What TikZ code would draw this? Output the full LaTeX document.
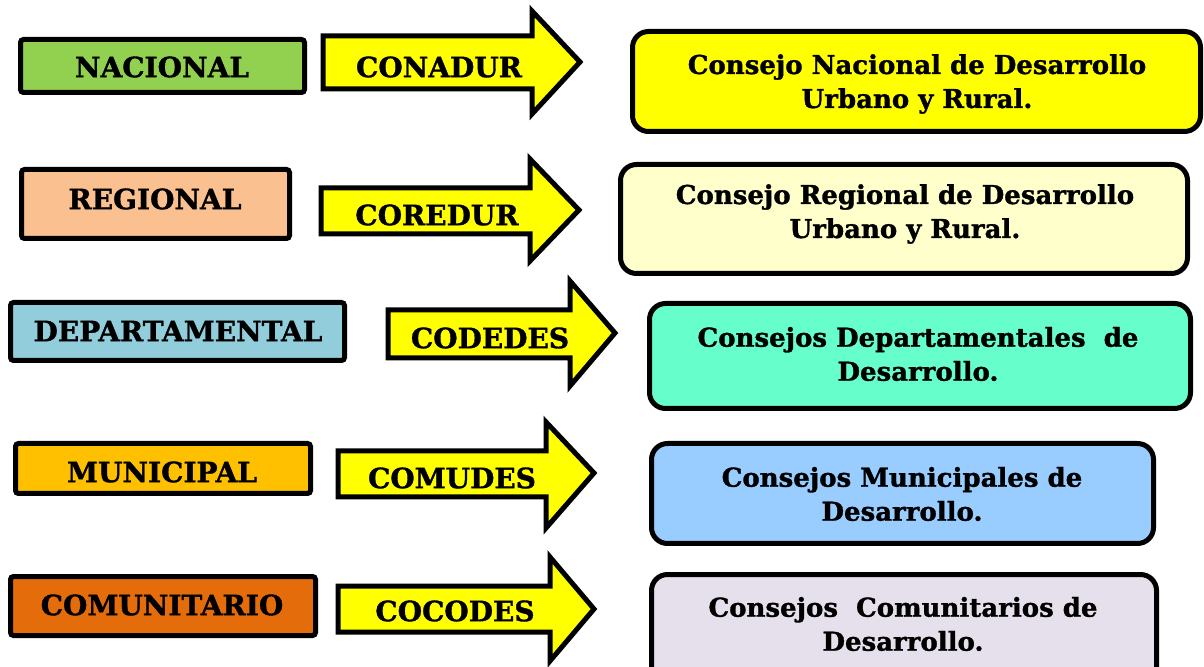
\documentclass[tikz,border=0pt]{standalone}
\usepackage{fontspec}
\setmainfont{DejaVu Serif}[BoldFeatures={FakeBold=1.2}]

\definecolor{verde}{HTML}{92D050}
\definecolor{durazno}{HTML}{FAC090}
\definecolor{celeste}{HTML}{92CDDC}
\definecolor{ambar}{HTML}{FFC000}
\definecolor{naranja}{HTML}{E46C0A}
\definecolor{amarillo}{HTML}{FFFF00}
\definecolor{crema}{HTML}{FFFFCC}
\definecolor{aguamarina}{HTML}{66FFCC}
\definecolor{azulclaro}{HTML}{99CCFF}
\definecolor{lavanda}{HTML}{E5E0EC}

\begin{document}
\begin{tikzpicture}[
  x=0.5pt,
  y=-0.5pt,
  nivel/.style={draw, line width=2.5pt, rounded corners=1.5pt},
  flecha/.style={draw, line width=2.5pt, fill=amarillo, line join=miter},
  consejo/.style={draw, line width=2.5pt, rounded corners=8pt},
  etiqueta/.style={font=\fontsize{14}{16}\selectfont\bfseries},
  texto/.style={font=\fontsize{13}{17}\selectfont\bfseries, align=center}
]

% White background
\fill[white] (0,0) rectangle (1204,667);
\useasboundingbox (0,0) rectangle (1204,667);

% Level boxes
\draw[nivel, fill=verde] (20.5,39.5) rectangle (304.5,92.5);
\draw[nivel, fill=durazno] (21.5,169.5) rectangle (289.5,238.5);
\draw[nivel, fill=celeste] (10.5,302.5) rectangle (344.5,360.5);
\draw[nivel, fill=ambar] (15.5,443.5) rectangle (310.5,493.5);
\draw[nivel, fill=naranja] (10.5,576.5) rectangle (315.5,635.5);

\node[etiqueta] (nacional) at (162,67) {NACIONAL};
\node[etiqueta] (regional) at (155,199) {REGIONAL};
\node[etiqueta] (departamental) at (178,331) {DEPARTAMENTAL};
\node[etiqueta] (municipal) at (162,472) {MUNICIPAL};
\node[etiqueta] (comunitario) at (162,605) {COMUNITARIO};

% Arrows
\foreach \l/\t/\b/\n/\ht/\hb/\tx/\ty in {
  323/36/89/532/11/114/580/62,
  321/188/234/530/159/261/579/210,
  388/310/358/570/281/386/615/333,
  338/451/497/546/422/528/594/473,
  338/586/632/550/557/661/594/609} {
  \draw[flecha] (\l,\t) -- (\n,\t) -- (\n,\ht) -- (\tx,\ty) -- (\n,\hb)
    -- (\n,\b) -- (\l,\b) -- cycle;
}

\node[etiqueta] (conadur) at (439,67) {CONADUR};
\node[etiqueta] (coredur) at (437,215) {COREDUR};
\node[etiqueta] (codedes) at (490,338) {CODEDES};
\node[etiqueta] (comudes) at (452,478) {COMUDES};
\node[etiqueta] (cocodes) at (455,611) {COCODES};

% Council boxes
\draw[consejo, fill=amarillo] (632.5,31.5) rectangle (1200.5,131.5);
\draw[consejo, fill=crema] (620.5,164.5) rectangle (1187.5,273.5);
\draw[consejo, fill=aguamarina] (649.5,303.5) rectangle (1190.5,408.5);
\draw[consejo, fill=azulclaro] (651.5,443.5) rectangle (1153.5,543.5);
\draw[consejo, fill=lavanda] (651.5,574.5) rectangle (1156.5,690);

\node[texto] (conadur-txt) at (917,84) {Consejo Nacional de Desarrollo\\Urbano y Rural.};
\node[texto] (coredur-txt) at (905,214) {Consejo Regional de Desarrollo\\Urbano y Rural.};
\node[texto] (codedes-txt) at (918,354) {Consejos Departamentales~ de\\Desarrollo.};
\node[texto] (comudes-txt) at (902,494) {Consejos Municipales de\\Desarrollo.};
\node[texto] (cocodes-txt) at (903,624) {Consejos~ Comunitarios de\\Desarrollo.};

\end{tikzpicture}
\end{document}
